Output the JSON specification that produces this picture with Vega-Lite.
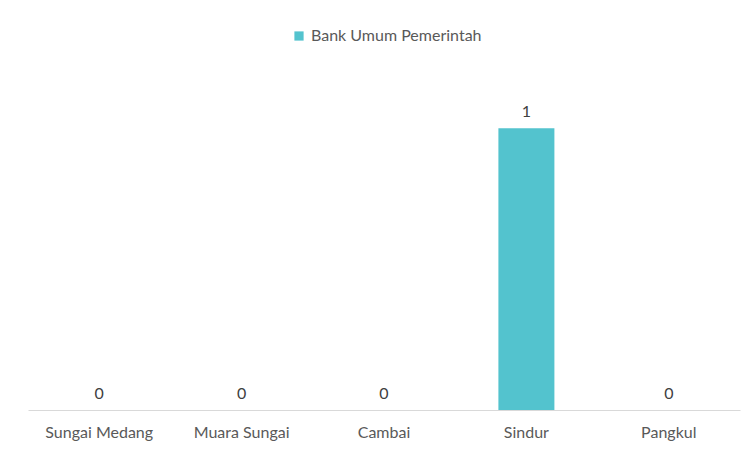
{
  "$schema": "https://vega.github.io/schema/vega-lite/v6.json",
  "width": 712,
  "height": 338,
  "autosize": {"type": "none"},
  "padding": {"left": 28, "top": 72, "right": 14, "bottom": 41},
  "background": "white",
  "config": {"view": {"stroke": null}, "font": "Lato"},
  "data": {"values": [
    {"kecamatan": "Sungai Medang", "jenis": "Bank Umum Pemerintah", "jumlah": 0},
    {"kecamatan": "Muara Sungai", "jenis": "Bank Umum Pemerintah", "jumlah": 0},
    {"kecamatan": "Cambai", "jenis": "Bank Umum Pemerintah", "jumlah": 0},
    {"kecamatan": "Sindur", "jenis": "Bank Umum Pemerintah", "jumlah": 1},
    {"kecamatan": "Pangkul", "jenis": "Bank Umum Pemerintah", "jumlah": 0}
  ]},
  "encoding": {
    "x": {"field": "kecamatan", "type": "nominal", "sort": null,
      "scale": {"paddingInner": 0.6, "paddingOuter": 0.3},
      "axis": {"title": null, "labelAngle": 0, "ticks": false, "labelPadding": 14, "labelFontSize": 16, "labelColor": "#595959", "domainColor": "#d9d9d9", "domainWidth": 1.2, "labelFont": "Lato"}},
    "y": {"field": "jumlah", "type": "quantitative", "scale": {"domain": [0, 1.2]}, "axis": null}
  },
  "layer": [
    {"mark": {"type": "bar", "width": 56},
      "encoding": {"color": {"field": "jenis", "type": "nominal", "scale": {"range": ["#53C3CE"]},
        "legend": {"title": null, "orient": "none", "legendX": 263, "legendY": -44, "symbolType": "square", "symbolSize": 85, "labelFontSize": 16, "labelLimit": 400, "labelColor": "#595959", "labelFont": "Lato", "symbolStrokeWidth": 0}}}},
    {"mark": {"type": "text", "dy": -16, "fontSize": 16, "color": "#404040", "baseline": "middle", "font": "Lato"},
      "encoding": {"text": {"field": "jumlah", "type": "quantitative"}}}
  ]
}
